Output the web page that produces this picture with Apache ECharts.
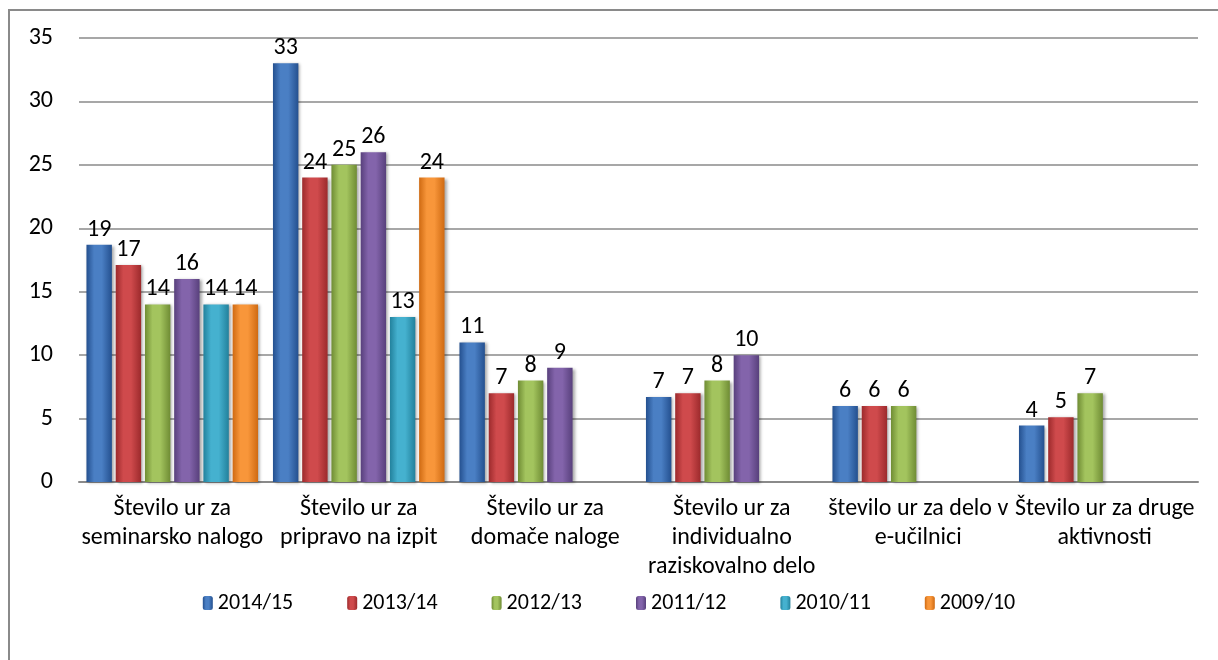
<!DOCTYPE html>
<html style="height: 100%">
<head>
<meta charset="utf-8">
<script src="https://cdn.jsdelivr.net/npm/echarts@6/dist/echarts.min.js"></script>
</head>
<body style="height: 100%; margin: 0; background: #fff">
<div id="container" style="width: 1218px; height: 660px"></div>
<script type="text/javascript">
var categories = [
    'Število ur za\nseminarsko nalogo',
    'Število ur za\npripravo na izpit',
    'Število ur za\ndomače naloge',
    'Število ur za\nindividualno\nraziskovalno delo',
    'število ur za delo v\ne-učilnici',
    'Število ur za druge\naktivnosti'
];
var years = ['2014/15', '2013/14', '2012/13', '2011/12', '2010/11', '2009/10'];
var v2014 = [18.7, 33, 11, 6.7, 6, 4.45];
var v2013 = [17.1, 24, 7, 7, 6, 5.1];
var v2012 = [14, 25, 8, 8, 6, 7];
var v2011 = [16, 26, 9, 10, null, null];
var v2010 = [14, 13, null, null, null, null];
var v2009 = [14, 24, null, null, null, null];
var yTicks = [0, 35, 5]; // min, max, step

var values = [v2014, v2013, v2012, v2011, v2010, v2009];
// light / dark pairs for the bevelled look
var colors = [
    ['#4a7fc4', '#24508f'],
    ['#cf4a4c', '#9c2a2c'],
    ['#a3c45e', '#6f8c34'],
    ['#8364ab', '#58407c'],
    ['#45b1cf', '#22819c'],
    ['#f8963a', '#cf6a12']
];

var font = 'Carlito, Lato, "Open Sans", sans-serif';

function grad(c) {
    return new echarts.graphic.LinearGradient(0, 0, 1, 0, [
        { offset: 0, color: c[1] },
        { offset: 0.3, color: c[0] },
        { offset: 0.6, color: c[0] },
        { offset: 1, color: c[1] }
    ]);
}

var series = years.map(function (y, i) {
    return {
        name: y,
        type: 'bar',
        barGap: '15%',
        barCategoryGap: '8%',
        data: values[i],
        itemStyle: {
            color: grad(colors[i]),
            shadowColor: 'rgba(0,0,0,0.35)',
            shadowBlur: 3,
            shadowOffsetX: 2,
            shadowOffsetY: 1
        },
        label: {
            show: true,
            position: 'top',
            distance: 3,
            fontFamily: font,
            fontSize: 24,
            color: '#000',
            formatter: function (p) { return Math.round(p.value); }
        }
    };
});

var myChart = echarts.init(document.getElementById('container'));
var option = {
    animation: false,
    backgroundColor: '#fff',
    graphic: [{
        type: 'rect',
        shape: { x: 9, y: 10, width: 1250, height: 700 },
        style: { fill: 'none', stroke: '#8a8a8a', lineWidth: 2 },
        silent: true
    }],
    grid: { left: 79, right: 20, top: 38, bottom: 178 },
    legend: {
        data: years,
        top: 587,
        left: 'center',
        itemWidth: 10,
        itemHeight: 14,
        itemGap: 54,
        textStyle: { fontFamily: font, fontSize: 22, color: '#000' }
    },
    xAxis: {
        type: 'category',
        data: categories,
        axisTick: { show: false },
        axisLine: { lineStyle: { color: '#8a8a8a', width: 2 } },
        axisLabel: {
            interval: 0,
            margin: 12,
            fontFamily: font,
            fontSize: 24,
            lineHeight: 29,
            color: '#000'
        }
    },
    yAxis: {
        type: 'value',
        min: yTicks[0],
        max: yTicks[1],
        interval: yTicks[2],
        axisLine: { show: false },
        axisTick: { show: false },
        axisLabel: { margin: 26, fontFamily: font, fontSize: 24, color: '#000' },
        splitLine: { lineStyle: { color: '#8a8a8a', width: 1.5 } }
    },
    series: series
};
myChart.setOption(option);
</script>
</body>
</html>
